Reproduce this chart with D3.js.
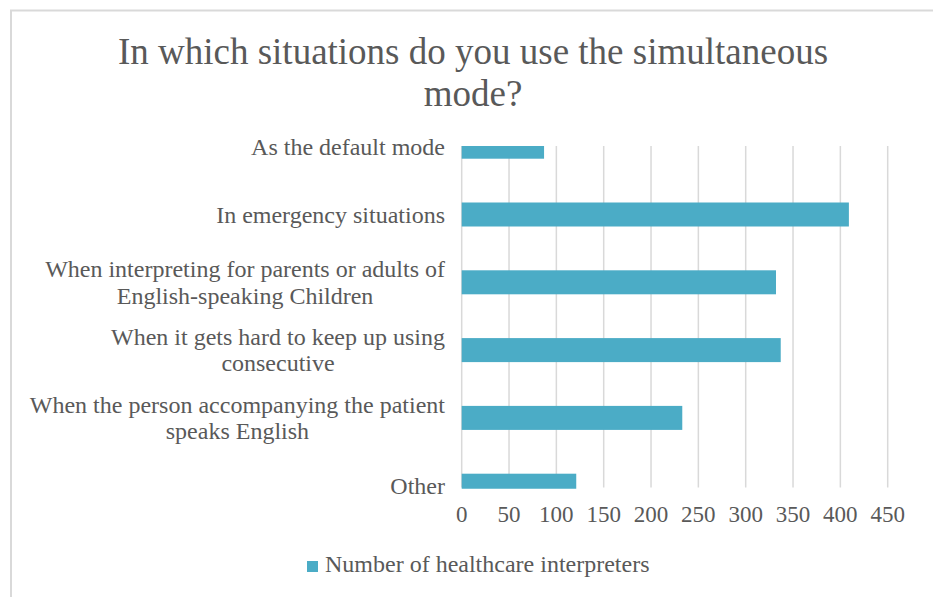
<!DOCTYPE html>
<html>
<head>
<meta charset="utf-8">
<script src="https://cdn.jsdelivr.net/npm/d3@7/dist/d3.min.js"></script>
<style>
  html, body { margin: 0; padding: 0; background: #ffffff; }
  svg { display: block; }
</style>
</head>
<body>
<svg id="chart" width="933" height="597" font-family="'Liberation Serif', 'DejaVu Serif', serif"></svg>
<script>
// Survey responses: situations in which interpreters use simultaneous mode
const categories = [
  "As the default mode",
  "In emergency situations",
  "When interpreting for parents or adults of English-speaking Children",
  "When it gets hard to keep up using consecutive",
  "When the person accompanying the patient speaks English",
  "Other"
];
const interpreterCounts = [87, 409, 332, 337, 233, 121];
const xTickValues = [0, 50, 100, 150, 200, 250, 300, 350, 400, 450];
const titleLines = ["In which situations do you use the simultaneous", "mode?"];
const seriesName = "Number of healthcare interpreters";

const svg = d3.select("#chart");
const barColor = "#4BACC6";
const gridColor = "#d9d9d9";
const textColor = "#595959";
const fontFamily = "'Liberation Serif', 'DejaVu Serif', serif";

// chart frame
svg.append("path")
  .attr("d", "M11,600 L11,10.5 L940,10.5")
  .attr("fill", "none")
  .attr("stroke", gridColor)
  .attr("stroke-width", 2);

// title
svg.append("g").selectAll("text")
  .data(titleLines)
  .join("text")
  .attr("x", 473)
  .attr("y", (d, i) => 64 + i * 42)
  .attr("text-anchor", "middle")
  .attr("font-family", fontFamily)
  .attr("fill", textColor)
  .attr("font-size", 37)
  .text(d => d);

// plot area
const plot = { top: 146, bottom: 488.7, left: 461.7, right: 887.7 };

const x = d3.scaleLinear().domain([0, 450]).range([plot.left, plot.right]);
const y = d3.scaleBand()
  .domain(categories)
  .range([112.8, 519.6])
  .paddingInner(0.646)
  .paddingOuter(0.323);

svg.append("defs").append("clipPath").attr("id", "plotClip")
  .append("rect")
  .attr("x", plot.left - 2)
  .attr("y", plot.top)
  .attr("width", plot.right - plot.left + 4)
  .attr("height", plot.bottom - plot.top);

// vertical gridlines
svg.append("g").selectAll("line")
  .data(xTickValues)
  .join("line")
  .attr("x1", d => x(d)).attr("x2", d => x(d))
  .attr("y1", plot.top).attr("y2", 487.5)
  .attr("stroke", gridColor)
  .attr("stroke-width", 1.5);

// bars
svg.append("g").attr("clip-path", "url(#plotClip)")
  .selectAll("rect")
  .data(categories.map((c, i) => ({ c, v: interpreterCounts[i] })))
  .join("rect")
  .attr("x", x(0))
  .attr("y", d => y(d.c))
  .attr("width", d => x(d.v) - x(0))
  .attr("height", y.bandwidth())
  .attr("fill", barColor);

// x tick labels
svg.append("g").selectAll("text")
  .data(xTickValues)
  .join("text")
  .attr("x", d => x(d))
  .attr("y", 522)
  .attr("text-anchor", "middle")
  .attr("font-family", fontFamily)
  .attr("fill", textColor)
  .attr("font-size", 23)
  .text(d => d);

// category labels, wrapped and centred as a block aligned to the axis
const labelRight = 445;
const maxLabelWidth = 425;
const lineGap = 26.7;
const labelG = svg.append("g")
  .attr("font-family", fontFamily)
  .attr("fill", textColor)
  .attr("font-size", 24);

categories.forEach(cat => {
  const probe = labelG.append("text");
  const words = cat.split(" ");
  const lines = [];
  let cur = "";
  words.forEach(w => {
    const test = cur ? cur + " " + w : w;
    probe.text(test);
    if (probe.node().getComputedTextLength() > maxLabelWidth && cur) {
      lines.push(cur);
      cur = w;
    } else {
      cur = test;
    }
  });
  lines.push(cur);
  const widths = lines.map(l => { probe.text(l); return probe.node().getComputedTextLength(); });
  probe.remove();
  const blockW = d3.max(widths);
  const cx = labelRight - blockW / 2;
  const cy = y(cat) + y.bandwidth() / 2;
  const firstBaseline = cy - (lines.length - 1) * lineGap / 2 + 8;
  lines.forEach((l, i) => {
    labelG.append("text")
      .attr("x", cx)
      .attr("y", firstBaseline + i * lineGap)
      .attr("text-anchor", "middle")
      .text(l);
  });
});

// legend
const legend = svg.append("g");
legend.append("rect")
  .attr("x", 307).attr("y", 561)
  .attr("width", 11).attr("height", 11)
  .attr("fill", barColor);
legend.append("text")
  .attr("x", 325).attr("y", 572)
  .attr("font-family", fontFamily)
  .attr("fill", textColor)
  .attr("font-size", 24)
  .text(seriesName);
</script>
</body>
</html>
